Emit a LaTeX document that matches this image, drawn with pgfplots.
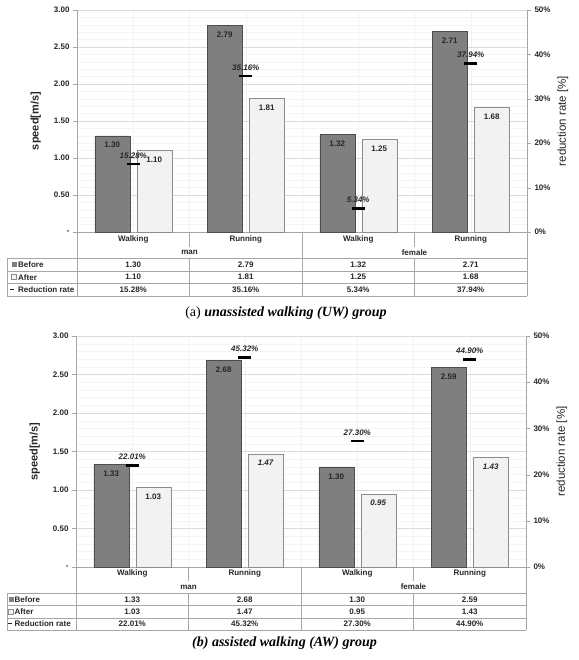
\documentclass[border=0pt]{standalone}
\usepackage{pgfplots}
\pgfplotsset{compat=1.18}
\usepackage{fontspec}
\setmainfont{Liberation Sans}
\newfontfamily\capfont{Liberation Serif}
\definecolor{darkbar}{HTML}{7F7F7F}
\definecolor{darkedge}{HTML}{4D4D4D}
\definecolor{lightbar}{HTML}{F2F2F2}
\definecolor{lightedge}{HTML}{8C8C8C}
\definecolor{tline}{HTML}{A6A6A6}
\definecolor{txt}{HTML}{262626}
\newcommand\cf{\bfseries\fontsize{8}{9}\selectfont}

\pgfplotsset{
  leftax/.style={
    scale only axis, width=450pt, anchor=south west,
    xmin=-0.5, xmax=3.5, ymin=0, ymax=3,
    axis x line*=bottom, axis y line*=left,
    axis line style={tline,-},
    xtick={0,1,2,3}, xticklabels={},
    minor xtick={-0.5,0.5,1.5,2.5,3.5},
    xmajorgrids, xminorgrids,
    major x tick style={draw=none}, minor x tick style={draw=none},
    ytick={0,0.5,...,3}, yticklabels={-,0.50,1.00,1.50,2.00,2.50,3.00},
    minor y tick num=4, ymajorgrids, yminorgrids,
    minor y tick style={draw=none},
    major x grid style={gray!10}, minor x grid style={gray!10},
    major y grid style={gray!28}, minor y grid style={gray!9},
    ytick pos=left, tick align=outside, major tick length=4pt,
    y tick style={tline},
    /pgf/number format/assume math mode=true,
    tick label style={font=\cf, text=txt},
    ylabel={speed[m/s]},
    ylabel style={font=\bfseries\fontsize{11}{13}\selectfont, text=txt, xshift=0pt, yshift=6pt},
  },
  rightax/.style={
    scale only axis, width=450pt, anchor=south west,
    xmin=-0.5, xmax=3.5, ymin=0, ymax=50,
    axis x line=none, axis y line*=right,
    axis line style={tline,-},
    ytick={0,10,...,50}, yticklabels={0\%,10\%,20\%,30\%,40\%,50\%},
    ytick pos=right, tick align=outside, major tick length=4pt,
    y tick style={tline},
    /pgf/number format/assume math mode=true,
    tick label style={font=\cf, text=txt},
    ylabel={reduction rate [\%]},
    ylabel style={font=\fontsize{11.5}{13}\selectfont, text=txt},
  },
  darkbars/.style={ybar, bar width=35pt, bar shift=-21pt, fill=darkbar, draw=darkedge,
    nodes near coords, point meta=explicit symbolic, nodes near coords align={below},
    every node near coord/.append style={font=\cf, text=txt, yshift=-3pt, xshift=-21pt}},
  lightbars/.style={ybar, bar width=35pt, bar shift=21pt, fill=lightbar, draw=lightedge,
    nodes near coords, point meta=explicit symbolic, nodes near coords align={below},
    every node near coord/.append style={font=\cf, text=txt, yshift=-3pt, xshift=21pt}},
  rates/.style={only marks, mark=-, mark size=6.5pt, mark options={line width=2.6pt, black},
    nodes near coords, point meta=explicit symbolic,
    every node near coord/.append style={font=\bfseries\itshape\fontsize{8}{9}\selectfont, text=txt, anchor=south, yshift=1pt}},
}

\begin{document}
\begin{tikzpicture}
\begin{scope}[x=1pt,y=-1pt]
\useasboundingbox (0,0) rectangle (578,660);
\end{scope}

% ---------------- panel (a) ----------------
\begin{axis}[leftax, at={(77pt,-232pt)}, height=222pt]
\addplot[darkbars] coordinates {(0,1.30)[1.30] (1,2.79)[2.79] (2,1.32)[1.32] (3,2.71)[2.71]};
\addplot[lightbars] coordinates {(0,1.10)[1.10] (1,1.81)[1.81] (2,1.25)[1.25] (3,1.68)[1.68]};
\end{axis}
\begin{axis}[rightax, at={(77pt,-232pt)}, height=222pt]
\addplot[rates] coordinates {(0,15.28)[15.28\%] (1,35.16)[35.16\%] (2,5.34)[5.34\%] (3,37.94)[37.94\%]};
\end{axis}

% ---------------- panel (b) ----------------
\begin{axis}[leftax, at={(76pt,-567pt)}, height=231pt]
\addplot[darkbars] coordinates {(0,1.33)[1.33] (1,2.68)[2.68] (2,1.30)[1.30] (3,2.59)[2.59]};
\addplot[lightbars] coordinates {(0,1.03)[1.03] (1,1.47)[\textit{1.47}] (2,0.95)[\textit{0.95}] (3,1.43)[\textit{1.43}]};
\end{axis}
\begin{axis}[rightax, at={(76pt,-567pt)}, height=231pt]
\addplot[rates] coordinates {(0,22.01)[22.01\%] (1,45.32)[45.32\%] (2,27.30)[27.30\%] (3,44.90)[44.90\%]};
\end{axis}

\begin{scope}[x=1pt,y=-1pt, every node/.style={font=\cf, text=txt, inner sep=0pt}]
% ---- table (a)
\draw[tline] (189.5,232)--(189.5,247) (414.5,232)--(414.5,247)
  (302,232)--(302,296) (77,232)--(77,296) (527,232)--(527,296)
  (189.5,258)--(189.5,296) (414.5,258)--(414.5,296)
  (7,258)--(527,258) (7,270.7)--(527,270.7) (7,283.3)--(527,283.3) (7,296)--(527,296)
  (7,258)--(7,296);
\node at (133.25,239.5) {Walking}; \node at (245.75,239.5) {Running};
\node at (358.25,239.5) {Walking}; \node at (470.75,239.5) {Running};
\node at (189.5,252.5) {man}; \node at (414.5,252.5) {female};
\foreach \x/\a/\b/\c in {133.25/1.30/1.10/15.28\%, 245.75/2.79/1.81/35.16\%, 358.25/1.32/1.25/5.34\%, 470.75/2.71/1.68/37.94\%}{
  \node at (\x,264.6) {\a}; \node at (\x,277.2) {\b}; \node at (\x,289.8) {\c};}
\fill[darkbar] (11.5,262.1) rectangle (16.5,267.1);
\filldraw[fill=lightbar, draw=lightedge, line width=0.5pt] (11.5,274.7) rectangle (16.5,279.7);
\draw[txt, line width=1pt] (10,289.6)--(14,289.6);
\node[anchor=west] at (18,264.6) {Before};
\node[anchor=west] at (18,277.2) {After};
\node[anchor=west] at (18,289.8) {Reduction rate};
\node[font=\capfont\fontsize{14}{16}\selectfont, text=black] at (286,313) {(a) \textbf{\textit{unassisted walking (UW) group}}};

% ---- table (b)
\draw[tline] (188.5,567)--(188.5,580.5) (413.5,567)--(413.5,580.5)
  (301,567)--(301,630) (76,567)--(76,630) (526,567)--(526,630)
  (188.5,593)--(188.5,630) (413.5,593)--(413.5,630)
  (7,593)--(526,593) (7,605.3)--(526,605.3) (7,617.7)--(526,617.7) (7,630)--(526,630)
  (7,593)--(7,630);
\node at (132.25,573.8) {Walking}; \node at (244.75,573.8) {Running};
\node at (357.25,573.8) {Walking}; \node at (469.75,573.8) {Running};
\node at (188.5,587) {man}; \node at (413.5,587) {female};
\foreach \x/\a/\b/\c in {132.25/1.33/1.03/22.01\%, 244.75/2.68/1.47/45.32\%, 357.25/1.30/0.95/27.30\%, 469.75/2.59/1.43/44.90\%}{
  \node at (\x,599.3) {\a}; \node at (\x,611.6) {\b}; \node at (\x,623.9) {\c};}
\fill[darkbar] (8.5,596.8) rectangle (13.5,601.8);
\filldraw[fill=lightbar, draw=lightedge, line width=0.5pt] (8.5,609.1) rectangle (13.5,614.1);
\draw[txt, line width=1pt] (8,623.7)--(12,623.7);
\node[anchor=west] at (14.5,599.3) {Before};
\node[anchor=west] at (14.5,611.6) {After};
\node[anchor=west] at (14.5,623.9) {Reduction rate};
\node[font=\capfont\fontsize{14}{16}\selectfont, text=black] at (284.5,643) {\textbf{\textit{(b) assisted walking (AW) group}}};
\end{scope}
\end{tikzpicture}
\end{document}
